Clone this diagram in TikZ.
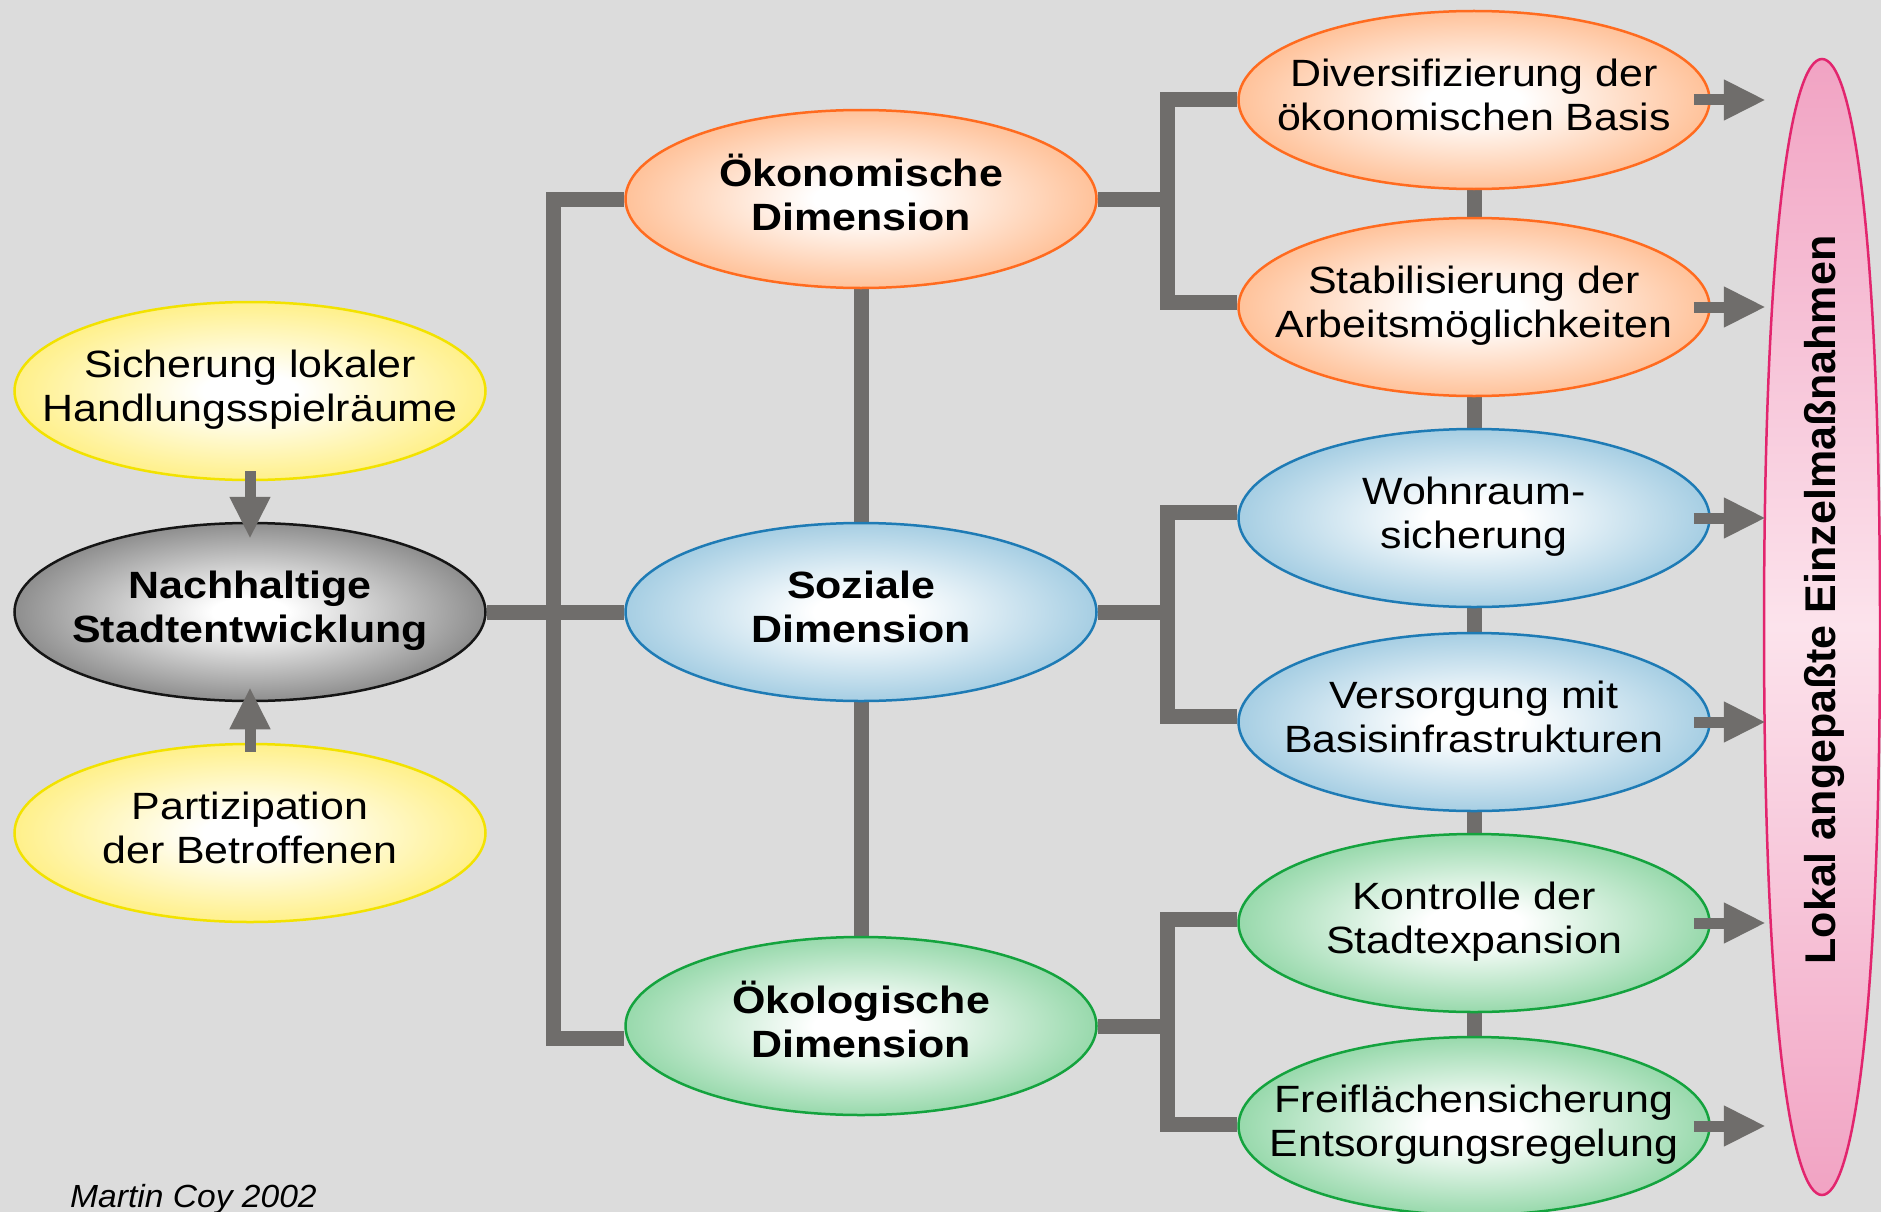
\documentclass[tikz,border=0pt]{standalone}
\usepackage{fontspec}
\usetikzlibrary{shapes.geometric,arrows.meta}
\newfontfamily\dfont{Liberation Sans}[FakeStretch=1.13]
\newfontfamily\pfont{Liberation Sans}
\newfontfamily\cfont{Liberation Sans}[FakeStretch=1.05]
\definecolor{bgc}{HTML}{DCDCDC}
\definecolor{connc}{HTML}{6F6D6B}
\definecolor{yelE}{HTML}{FFF08A}
\definecolor{yelB}{HTML}{F2E200}
\definecolor{gryE}{HTML}{8E8E8E}
\definecolor{gryB}{HTML}{151515}
\definecolor{orgE}{HTML}{FFC29A}
\definecolor{orgB}{HTML}{FF6B1F}
\definecolor{bluE}{HTML}{A6CEE3}
\definecolor{bluB}{HTML}{1E7BB5}
\definecolor{grnE}{HTML}{98D9AC}
\definecolor{grnB}{HTML}{14A33E}
\definecolor{pinkE}{HTML}{F1A3C3}
\definecolor{pinkM}{HTML}{FCE3EC}
\definecolor{pinkB}{HTML}{E2256E}
\pgfdeclareradialshading{yelsh}{\pgfpoint{0bp}{0bp}}{color(0bp)=(white); color(5bp)=(white); color(25bp)=(yelE); color(50bp)=(yelE)}
\pgfdeclareradialshading{grysh}{\pgfpoint{0bp}{0bp}}{color(0bp)=(white); color(4bp)=(white); color(25bp)=(gryE); color(50bp)=(gryE)}
\pgfdeclareradialshading{orgsh}{\pgfpoint{0bp}{0bp}}{color(0bp)=(white); color(5bp)=(white); color(25bp)=(orgE); color(50bp)=(orgE)}
\pgfdeclareradialshading{blush}{\pgfpoint{0bp}{0bp}}{color(0bp)=(white); color(5bp)=(white); color(25bp)=(bluE); color(50bp)=(bluE)}
\pgfdeclareradialshading{grnsh}{\pgfpoint{0bp}{0bp}}{color(0bp)=(white); color(5bp)=(white); color(25bp)=(grnE); color(50bp)=(grnE)}
\newcommand{\lbl}[1]{\makebox[0pt]{\begin{tabular}{@{}c@{}}#1\end{tabular}}}
\pgfdeclarelayer{bg}
\pgfsetlayers{bg,main}
\begin{document}
\begin{tikzpicture}[x=1pt,y=-1pt,
  ell/.style={ellipse, minimum width=471pt, minimum height=178pt, inner sep=0pt,
    line width=2.5pt, font=\dfont\fontsize{38}{44}\selectfont},
  bld/.style={font=\dfont\bfseries\fontsize{38}{44}\selectfont},
  yel/.style={shading=yelsh, draw=yelB},
  gry/.style={shading=grysh, draw=gryB},
  org/.style={shading=orgsh, draw=orgB},
  blu/.style={shading=blush, draw=bluB},
  grn/.style={shading=grnsh, draw=grnB},
  conn/.style={draw=connc, line width=15pt},
  arr/.style={draw=connc, line width=11pt, -{Triangle[length=42pt,width=38pt]}}
]
\useasboundingbox (0,0) rectangle (1881,1212);

% left column
\node[ell, yel] (sich) at (250,391) {\lbl{Sicherung lokaler\\Handlungsspielräume}};
\node[ell, gry, bld] (nach) at (250,612) {\lbl{Nachhaltige\\Stadtentwicklung}};
\node[ell, yel] (part) at (250,833) {\lbl{Partizipation\\der Betroffenen}};

% middle column
\node[ell, org, bld] (oek) at (861,199) {\lbl{Ökonomische\\Dimension}};
\node[ell, blu, bld] (soz) at (861,612) {\lbl{Soziale\\Dimension}};
\node[ell, grn, bld] (okol) at (861,1026) {\lbl{Ökologische\\Dimension}};

% right column
\node[ell, org] (div) at (1474,100) {\lbl{Diversifizierung der\\ökonomischen Basis}};
\node[ell, org] (stab) at (1474,307) {\lbl{Stabilisierung der\\Arbeitsmöglichkeiten}};
\node[ell, blu] (wohn) at (1474,518) {\lbl{Wohnraum-\\sicherung}};
\node[ell, blu] (vers) at (1474,722) {\lbl{Versorgung mit\\Basisinfrastrukturen}};
\node[ell, grn] (kont) at (1474,923) {\lbl{Kontrolle der\\Stadtexpansion}};
\node[ell, grn] (frei) at (1474,1126) {\lbl{Freiflächensicherung\\Entsorgungsregelung}};

% pink lens
\path[draw=pinkB, line width=2.5pt, top color=pinkE, bottom color=pinkE, middle color=pinkM]
  (1822,59) .. controls (1792,59) and (1764,227) .. (1764,627)
  .. controls (1764,1027) and (1792,1195) .. (1822,1195)
  .. controls (1852,1195) and (1880,1027) .. (1880,627)
  .. controls (1880,227) and (1852,59) .. (1822,59) -- cycle;
\node[rotate=90, inner sep=0pt, font=\pfont\bfseries\fontsize{43}{48}\selectfont] (lokal) at (1824,600) {Lokal angepaßte Einzelmaßnahmen};

% credit
\node[anchor=base west, inner sep=0pt, font=\cfont\itshape\fontsize{32}{36}\selectfont] (credit) at (70,1207) {Martin Coy 2002};

% connectors behind
\begin{pgfonlayer}{bg}
  \fill[bgc] (0,0) rectangle (1881,1212);
  \coordinate (t) at (553.5,612);
  \draw[conn] (nach.east) -- (soz.west);
  \draw[conn] (oek.west) -| (t) |- ([yshift=-12pt]okol.west);
  \draw[conn] (oek.south) -- (soz.north);
  \draw[conn] (soz.south) -- (okol.north);
  \coordinate (r1) at (1167,199);
  \coordinate (r2) at (1167,612);
  \coordinate (r3) at (1167,1026);
  \draw[conn] (oek.east) -- (oek.east -| r1);
  \draw[conn] (div.west) -| (r1) |- ([yshift=5pt]stab.west);
  \draw[conn] (soz.east) -- (soz.east -| r2);
  \draw[conn] ([yshift=6pt]wohn.west) -| (r2) |- ([yshift=6pt]vers.west);
  \draw[conn] (okol.east) -- (okol.east -| r3);
  \draw[conn] ([yshift=4pt]kont.west) -| (r3) |- ([yshift=2pt]frei.west);
  \draw[conn] (div.south) -- (stab.north);
  \draw[conn] (stab.south) -- (wohn.north);
  \draw[conn] (wohn.south) -- (vers.north);
  \draw[conn] (vers.south) -- (kont.north);
  \draw[conn] (kont.south) -- (frei.north);
\end{pgfonlayer}

% arrows
\draw[arr] ([yshift=10pt]sich.south) -- ([yshift=-17pt]nach.north);
\draw[arr] ([yshift=-9pt]part.north) -- ([yshift=15pt]nach.south);
\draw[arr] ([xshift=-17pt]div.east) -- ++(72,0);
\draw[arr] ([xshift=-17pt]stab.east) -- ++(72,0);
\draw[arr] ([xshift=-17pt]wohn.east) -- ++(72,0);
\draw[arr] ([xshift=-17pt]vers.east) -- ++(72,0);
\draw[arr] ([xshift=-17pt]kont.east) -- ++(72,0);
\draw[arr] ([xshift=-17pt]frei.east) -- ++(72,0);
\end{tikzpicture}
\end{document}
